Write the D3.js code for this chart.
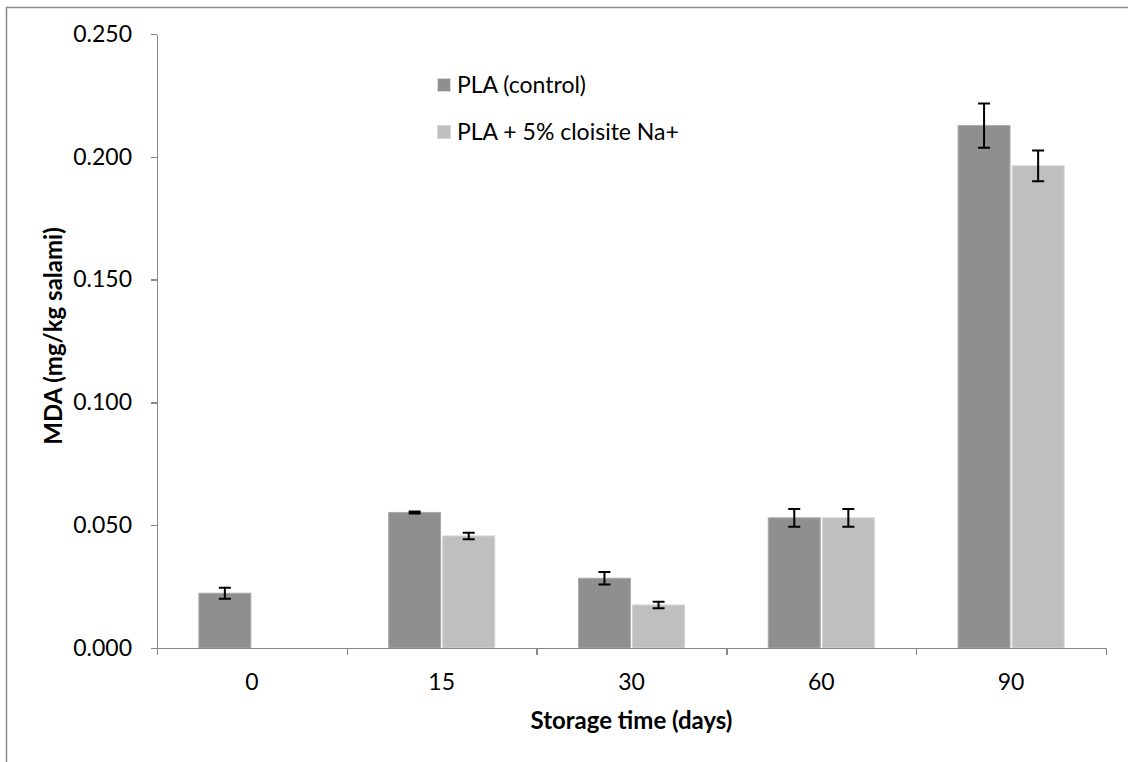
<!DOCTYPE html>
<head>
  <meta charset="utf-8">
  <script src="https://d3js.org/d3.v7.min.js"></script>
<style>
body { margin:0; background:#fff; }
text { font-family: Lato, "Open Sans", sans-serif; fill:#000; }
.axis path, .axis line { stroke:#888; stroke-width:1.5px; shape-rendering:crispEdges; }
.axis text { font-size:23px; }
.title { font-size:24px; font-weight:bold; }
.legend text { font-size:23px; }
.err { stroke:#000; stroke-width:2px; fill:none; }
</style>
</head>
<body>
<script>
// chart values
var days = ["0", "15", "30", "60", "90"];
var seriesNames = ["PLA (control)", "PLA + 5% cloisite Na+"];
var control = [0.0223, 0.0552, 0.0284, 0.0530, 0.2127];
var controlErr = [0.0022, 0.0004, 0.0025, 0.0036, 0.0090];
var cloisite = [null, 0.0456, 0.0175, 0.0530, 0.1963];
var cloisiteErr = [null, 0.0013, 0.0013, 0.0036, 0.0063];
var yTicks = [0, 0.05, 0.10, 0.15, 0.20, 0.25];

var colors = ["#8f8f8f", "#bfbfbf"];

var W = 1128, H = 762;
var plotL = 157, plotR = 1106, plotT = 34, plotB = 648;

var svg = d3.select("body").append("svg")
    .attr("width", W)
    .attr("height", H);

// outer frame (runs off the right and bottom edges)
svg.append("rect")
    .attr("x", 6.5).attr("y", 7.5)
    .attr("width", W + 20).attr("height", H + 20)
    .attr("fill", "none").attr("stroke", "#888").attr("stroke-width", 1.5);

var x = d3.scaleBand().domain(days).range([plotL, plotR]);
var xSub = d3.scaleBand().domain([0, 1]).range([0, 106]).paddingInner(0.04);
var y = d3.scaleLinear().domain([0, 0.25]).range([plotB, plotT]);

var data = [];
days.forEach((d, i) => {
  data.push({day: d, s: 0, v: control[i], e: controlErr[i]});
  data.push({day: d, s: 1, v: cloisite[i], e: cloisiteErr[i]});
});
data = data.filter(d => d.v != null);

var bx = d => x(d.day) + (x.bandwidth() - 106) / 2 + xSub(d.s);

// bars
svg.append("g").selectAll("rect")
    .data(data)
  .enter().append("rect")
    .attr("x", bx)
    .attr("y", d => y(d.v))
    .attr("width", xSub.bandwidth())
    .attr("height", d => y(0) - y(d.v))
    .attr("fill", d => colors[d.s])
    .attr("stroke", d => d.s ? "#d0d0d0" : "#a8a8a8")
    .attr("stroke-width", 1);

// error bars
svg.append("g").selectAll("path")
    .data(data)
  .enter().append("path")
    .attr("class", "err")
    .attr("d", d => {
      var cx = bx(d) + xSub.bandwidth() / 2,
          y1 = y(d.v + d.e), y2 = y(d.v - d.e);
      return "M" + (cx - 6) + "," + y1 + "H" + (cx + 6) +
             "M" + cx + "," + y1 + "V" + y2 +
             "M" + (cx - 6) + "," + y2 + "H" + (cx + 6);
    });

// y axis
svg.append("g")
    .attr("class", "axis")
    .attr("transform", "translate(" + plotL + ",0)")
    .call(d3.axisLeft(y).tickValues(yTicks).tickFormat(d3.format(".3f"))
      .tickSize(6).tickSizeOuter(0).tickPadding(19));

// x axis: labels at category centres, ticks at boundaries
svg.append("g")
    .attr("class", "axis")
    .attr("transform", "translate(0," + plotB + ")")
    .call(d3.axisBottom(x).tickSize(0).tickPadding(26))
    .call(g => g.select(".domain").remove());

var xb = d3.scaleLinear().domain([0, days.length]).range([plotL, plotR]);
svg.append("g")
    .attr("class", "axis")
    .attr("transform", "translate(0," + plotB + ")")
    .call(d3.axisBottom(xb).ticks(days.length).tickFormat("").tickSize(7).tickSizeOuter(0));

// axis titles
svg.append("text")
    .attr("class", "title")
    .attr("x", (plotL + plotR) / 2)
    .attr("y", 729)
    .attr("text-anchor", "middle")
    .text("Storage time (days)");

svg.append("text")
    .attr("class", "title")
    .attr("transform", "translate(62,336) rotate(-90)")
    .attr("text-anchor", "middle")
    .text("MDA (mg/kg salami)");

// legend
var lg = svg.append("g").attr("class", "legend")
  .selectAll("g")
    .data(seriesNames)
  .enter().append("g")
    .attr("transform", (d, i) => "translate(437," + (78 + i * 47) + ")");

lg.append("rect")
    .attr("x", 0.5).attr("y", 0.5)
    .attr("width", 13).attr("height", 13)
    .attr("fill", (d, i) => colors[i])
    .attr("stroke", "#d8d8d8");

lg.append("text")
    .attr("x", 20)
    .attr("y", 15)
    .text(d => d);
</script>
</body>
